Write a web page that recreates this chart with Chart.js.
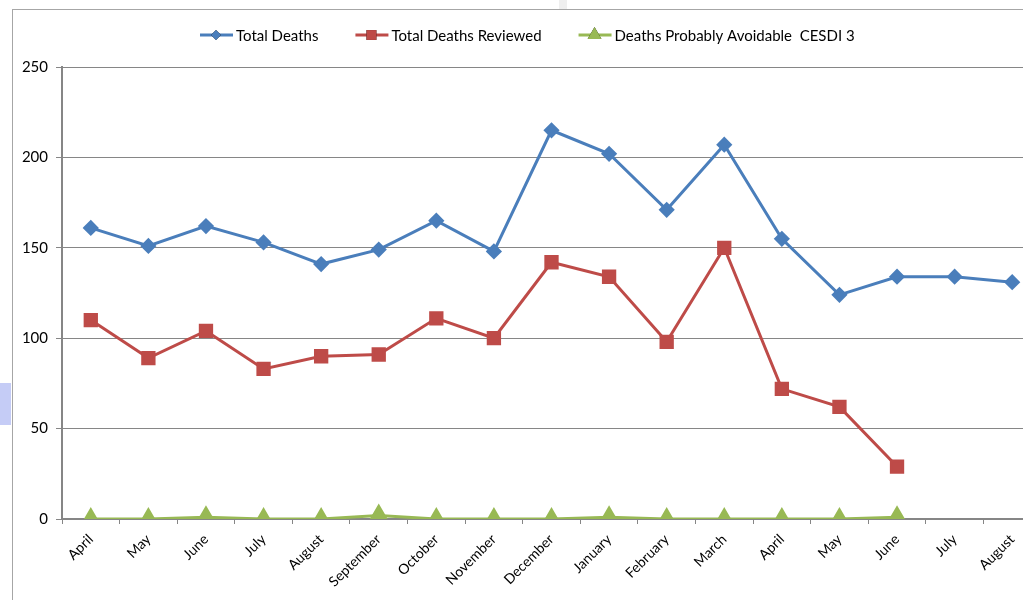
<!DOCTYPE html>
<html>
<head>
<meta charset="utf-8">
<script src="https://cdn.jsdelivr.net/npm/chart.js@4.4.1/dist/chart.umd.min.js"></script>
<style>
  html, body { margin: 0; padding: 0; background: #fff; overflow: hidden; width: 1023px; height: 600px; }
  #frame { position: absolute; left: 12px; top: 9px; width: 1040px; height: 591px;
           border-left: 1px solid #a6a6a6; border-top: 1px solid #a6a6a6; }
  #wrap { position: absolute; left: 0; top: 0; width: 1040px; height: 590px; }
  #strip { position: absolute; left: 559px; top: 0; width: 8px; height: 9px; background: #efefef; }
  #tab { position: absolute; left: 0; top: 383px; width: 11px; height: 42px; background: #c5ccf6; }
</style>
</head>
<body>
<div id="strip"></div>
<div id="tab"></div>
<div id="frame"><div id="wrap"><canvas id="linechart"></canvas></div></div>
<script>
const months = [
  "April", "May", "June", "July", "August", "September", "October", "November",
  "December", "January", "February", "March", "April", "May", "June", "July", "August",
];
const totalDeaths = [161, 151, 162, 153, 141, 149, 165, 148, 215, 202, 171, 207, 155, 124, 134, 134, 131];
const totalReviewed = [110, 89, 104, 83, 90, 91, 111, 100, 142, 134, 98, 150, 72, 62, 29];
const probablyAvoidable = [0, 0, 1, 0, 0, 2, 0, 0, 0, 1, 0, 0, 0, 0, 1];
const yTicks = [0, 50, 100, 150, 200, 250];

const font = "Lato, 'Liberation Sans', sans-serif";

// legend drawn as line + marker, like the spreadsheet legend
const lineLegend = {
  id: "lineLegend",
  afterDraw(chart) {
    const ctx = chart.ctx;
    ctx.save();
    ctx.font = "15px " + font;
    ctx.textBaseline = "middle";
    const y = 25;
    let x = 187;
    chart.data.datasets.forEach((ds) => {
      ctx.strokeStyle = ds.borderColor;
      ctx.lineWidth = 3;
      ctx.beginPath();
      ctx.moveTo(x, y);
      ctx.lineTo(x + 33, y);
      ctx.stroke();
      Chart.helpers.drawPoint(ctx, {
        pointStyle: ds.pointStyle,
        radius: ds.pointRadius - 1,
        rotation: 0,
        borderWidth: 0,
      }, x + 16, y);
      ctx.fillStyle = ds.backgroundColor;
      ctx.fill();
      ctx.fillStyle = "#000";
      ctx.fillText(ds.label, x + 36, y + 1);
      x += 36 + ctx.measureText(ds.label).width + 37;
    });
    ctx.restore();
  },
};

new Chart(document.getElementById("linechart"), {
  type: "line",
  data: {
    labels: months,
    datasets: [
      {
        label: "Total Deaths",
        data: totalDeaths,
        borderColor: "#4a7ebb",
        backgroundColor: "#4a7ebb",
        borderWidth: 3,
        pointStyle: "rectRot",
        pointRadius: 6,
        pointHoverRadius: 6,
      },
      {
        label: "Total Deaths Reviewed",
        data: totalReviewed,
        borderColor: "#be4b48",
        backgroundColor: "#be4b48",
        borderWidth: 3,
        pointStyle: "rect",
        pointRadius: 8,
        pointHoverRadius: 8,
      },
      {
        label: "Deaths Probably Avoidable  CESDI 3",
        data: probablyAvoidable,
        borderColor: "#98b954",
        backgroundColor: "#98b954",
        borderWidth: 3,
        pointStyle: "triangle",
        pointRadius: 9,
        pointHoverRadius: 9,
      },
    ],
  },
  options: {
    responsive: true,
    maintainAspectRatio: false,
    animation: false,
    layout: { padding: { top: 57, right: 11, left: 0, bottom: 0 } },
    elements: { line: { tension: 0 } },
    plugins: {
      legend: { display: false },
      tooltip: { enabled: false },
    },
    scales: {
      x: {
        offset: true,
        grid: {
          offset: true,
          drawOnChartArea: false,
          drawTicks: true,
          tickLength: 5,
          color: "#868686",
        },
        border: { color: "#868686", width: 2 },
        ticks: {
          color: "#000",
          font: { family: font, size: 14 },
          minRotation: 45,
          maxRotation: 45,
          autoSkip: false,
          padding: 7,
        },
        afterFit: (scale) => { scale.height = 81; },
      },
      y: {
        min: 0,
        max: 250,
        afterBuildTicks: (scale) => { scale.ticks = yTicks.map((v) => ({ value: v })); },
        grid: { color: "#868686", tickLength: 6, lineWidth: 1 },
        border: { color: "#868686", width: 2 },
        ticks: {
          color: "#000",
          font: { family: font, size: 15 },
          padding: 8,
        },
        afterFit: (scale) => { scale.width = 49; },
      },
    },
  },
  plugins: [lineLegend],
});
</script>
</body>
</html>
